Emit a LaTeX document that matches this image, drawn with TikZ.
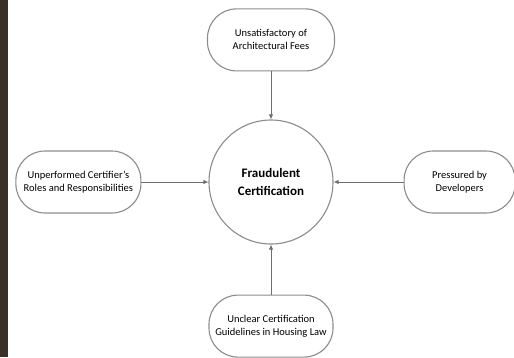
\documentclass[tikz,border=0pt]{standalone}
\usepackage{fontspec}
\setmainfont{Carlito}
\usetikzlibrary{arrows.meta,positioning}

\definecolor{strip}{HTML}{3A3028}
\definecolor{edge}{HTML}{8C8C8C}
\definecolor{link}{HTML}{6E6E6E}

\begin{document}
\begin{tikzpicture}[
  font=\fontsize{10.5}{13}\selectfont,
  cause/.style={draw=edge,line width=1.1pt,rounded corners=29pt,minimum height=62pt,align=center,inner sep=2pt},
  core/.style={draw=edge,line width=1.1pt,circle,minimum size=124pt,align=center,font=\fontsize{13}{17}\selectfont\bfseries},
  link/.style={draw=link,line width=0.9pt,-{Latex[length=5pt,width=4.5pt]}}
]
\useasboundingbox (0,0) rectangle (514pt,-357pt);
\fill[white] (0,0) rectangle (514pt,-357pt);
\fill[strip] (0,0) rectangle (8pt,-357pt);

\node[core] (fc) at (271pt,-182pt) {Fraudulent\\[1pt]Certification};
\node[cause,minimum width=127pt,above=48pt of fc] (fees) {Unsatisfactory of\\Architectural Fees};
\node[cause,minimum width=125pt,left=67pt of fc] (roles) {Unperformed Certifier's\\Roles and Responsibilities};
\node[cause,minimum width=111pt,right=70pt of fc] (devs) {Pressured by\\Developers};
\node[cause,minimum width=124pt,below=50pt of fc] (law) {Unclear Certification\\Guidelines in Housing Law};

\draw[link] (fees) -- (fc);
\draw[link] (roles) -- (fc);
\draw[link] (devs) -- (fc);
\draw[link] (law) -- (fc);
\end{tikzpicture}
\end{document}
